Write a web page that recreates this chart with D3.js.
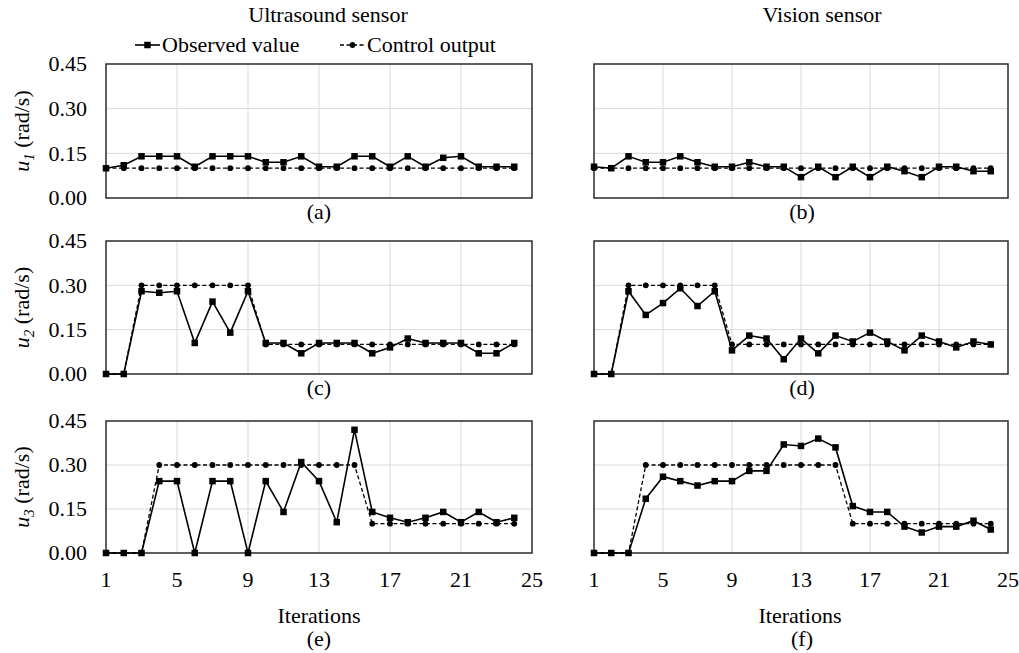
<!DOCTYPE html>
<html>
<head>
<meta charset="utf-8">
<script src="https://cdn.jsdelivr.net/npm/d3@7"></script>
</head>
<body style="margin:0">
<script>
// data
const iterations = [1,2,3,4,5,6,7,8,9,10,11,12,13,14,15,16,17,18,19,20,21,22,23,24];
const xTicks = [1, 5, 9, 13, 17, 21, 25];
const yTicks = [0, 0.15, 0.30, 0.45];
const yTickLabels = ["0.00", "0.15", "0.30", "0.45"];
const columnTitles = ["Ultrasound sensor", "Vision sensor"];
const panelTags = ["(a)", "(b)", "(c)", "(d)", "(e)", "(f)"];
const seriesNames = ["Observed value", "Control output"];

// ultrasound sensor
const usU1Obs  = [0.10,0.11,0.14,0.14,0.14,0.105,0.14,0.14,0.14,0.12,0.12,0.14,0.105,0.105,0.14,0.14,0.105,0.14,0.105,0.135,0.14,0.105,0.105,0.105];
const usU1Ctrl = [0.10,0.10,0.10,0.10,0.10,0.10,0.10,0.10,0.10,0.10,0.10,0.10,0.10,0.10,0.10,0.10,0.10,0.10,0.10,0.10,0.10,0.10,0.10,0.10];
const usU2Obs  = [0,0,0.28,0.275,0.28,0.105,0.245,0.14,0.28,0.105,0.105,0.07,0.105,0.105,0.105,0.07,0.09,0.12,0.105,0.105,0.105,0.07,0.07,0.105];
const usU2Ctrl = [0,0,0.30,0.30,0.30,0.30,0.30,0.30,0.30,0.10,0.10,0.10,0.10,0.10,0.10,0.10,0.10,0.10,0.10,0.10,0.10,0.10,0.10,0.10];
const usU3Obs  = [0,0,0,0.245,0.245,0,0.245,0.245,0,0.245,0.14,0.31,0.245,0.105,0.42,0.14,0.12,0.105,0.12,0.14,0.105,0.14,0.105,0.12];
const usU3Ctrl = [0,0,0,0.30,0.30,0.30,0.30,0.30,0.30,0.30,0.30,0.30,0.30,0.30,0.30,0.10,0.10,0.10,0.10,0.10,0.10,0.10,0.10,0.10];

// vision sensor
const vsU1Obs  = [0.105,0.10,0.14,0.12,0.12,0.14,0.12,0.105,0.105,0.12,0.105,0.105,0.07,0.105,0.07,0.105,0.07,0.105,0.09,0.07,0.105,0.105,0.09,0.09];
const vsU1Ctrl = [0.10,0.10,0.10,0.10,0.10,0.10,0.10,0.10,0.10,0.10,0.10,0.10,0.10,0.10,0.10,0.10,0.10,0.10,0.10,0.10,0.10,0.10,0.10,0.10];
const vsU2Obs  = [0,0,0.28,0.20,0.24,0.29,0.23,0.28,0.08,0.13,0.12,0.05,0.12,0.07,0.13,0.11,0.14,0.11,0.08,0.13,0.11,0.09,0.11,0.10];
const vsU2Ctrl = [0,0,0.30,0.30,0.30,0.30,0.30,0.30,0.10,0.10,0.10,0.10,0.10,0.10,0.10,0.10,0.10,0.10,0.10,0.10,0.10,0.10,0.10,0.10];
const vsU3Obs  = [0,0,0,0.185,0.26,0.245,0.23,0.245,0.245,0.28,0.28,0.37,0.365,0.39,0.36,0.16,0.14,0.14,0.09,0.07,0.09,0.09,0.11,0.08];
const vsU3Ctrl = [0,0,0,0.30,0.30,0.30,0.30,0.30,0.30,0.30,0.30,0.30,0.30,0.30,0.30,0.10,0.10,0.10,0.10,0.10,0.10,0.10,0.10,0.10];

const panels = [
  { col: 0, row: 0, obs: usU1Obs, ctrl: usU1Ctrl, tag: panelTags[0], sub: "1" },
  { col: 1, row: 0, obs: vsU1Obs, ctrl: vsU1Ctrl, tag: panelTags[1], sub: "1" },
  { col: 0, row: 1, obs: usU2Obs, ctrl: usU2Ctrl, tag: panelTags[2], sub: "2" },
  { col: 1, row: 1, obs: vsU2Obs, ctrl: vsU2Ctrl, tag: panelTags[3], sub: "2" },
  { col: 0, row: 2, obs: usU3Obs, ctrl: usU3Ctrl, tag: panelTags[4], sub: "3" },
  { col: 1, row: 2, obs: vsU3Obs, ctrl: vsU3Ctrl, tag: panelTags[5], sub: "3" }
];

const W = 1019, H = 653;
const colX = [[106, 532], [594, 1008]];
const rowY = [[64, 198], [241, 374], [421, 553]];
const fontSize = 22;
const sq = 6.5;      // square marker side
const dotR = 2.9;    // circle marker radius
const dash = "4,2.5";

const svg = d3.select("body").append("svg")
  .attr("width", W)
  .attr("height", H);

// column titles
svg.selectAll("text.title")
  .data(columnTitles)
  .enter().append("text")
  .attr("class", "title")
  .attr("x", (d, i) => i === 0 ? 328 : 822)
  .attr("y", 22)
  .attr("text-anchor", "middle")
  .text(d => d);

// legend
const legend = svg.append("g");
legend.append("line").attr("x1", 135).attr("x2", 160).attr("y1", 45).attr("y2", 45)
  .attr("stroke", "#000").attr("stroke-width", 1.6);
legend.append("rect").attr("x", 147.5 - sq / 2).attr("y", 45 - sq / 2).attr("width", sq).attr("height", sq).attr("fill", "#000");
legend.append("text").attr("x", 162).attr("y", 52).text(seriesNames[0]);
legend.append("line").attr("x1", 340).attr("x2", 365).attr("y1", 45).attr("y2", 45)
  .attr("stroke", "#000").attr("stroke-width", 1.3).attr("stroke-dasharray", dash);
legend.append("circle").attr("cx", 352.5).attr("cy", 45).attr("r", dotR).attr("fill", "#000");
legend.append("text").attr("x", 367).attr("y", 52).text(seriesNames[1]);

panels.forEach(p => {
  const [x0, x1] = colX[p.col];
  const [y0, y1] = rowY[p.row];

  const x = d3.scaleLinear().domain([1, 25]).range([x0, x1]);
  const y = d3.scaleLinear().domain([0, 0.45]).range([y1, y0]);

  const g = svg.append("g");

  // grid
  g.selectAll("line.vgrid")
    .data(xTicks.slice(1, -1))
    .enter().append("line")
    .attr("x1", d => x(d)).attr("x2", d => x(d))
    .attr("y1", y0).attr("y2", y1)
    .attr("stroke", "#d9d9d9").attr("stroke-width", 1);
  g.selectAll("line.hgrid")
    .data(yTicks.slice(1, -1))
    .enter().append("line")
    .attr("x1", x0).attr("x2", x1)
    .attr("y1", d => y(d)).attr("y2", d => y(d))
    .attr("stroke", "#d9d9d9").attr("stroke-width", 1);

  // frame
  g.append("rect")
    .attr("x", x0).attr("y", y0)
    .attr("width", x1 - x0).attr("height", y1 - y0)
    .attr("fill", "none")
    .attr("stroke", "#2b2b2b").attr("stroke-width", 1.5);

  // y tick labels on left column only
  if (p.col === 0) {
    g.selectAll("text.ytick")
      .data(yTicks)
      .enter().append("text")
      .attr("x", 87)
      .attr("y", d => y(d))
      .attr("dy", "0.34em")
      .attr("text-anchor", "end")
      .text((d, i) => yTickLabels[i]);

    const lab = g.append("text")
      .attr("transform", `translate(29, ${(y0 + y1) / 2}) rotate(-90)`)
      .attr("text-anchor", "middle");
    lab.append("tspan").attr("font-style", "italic").text("u");
    lab.append("tspan").attr("font-style", "italic").attr("class", "sub")
      .attr("dy", 5).text(p.sub);
    lab.append("tspan").attr("dy", -5).text(" (rad/s)");
  }

  // series
  const line = d3.line().x((d, i) => x(iterations[i])).y(d => y(d));

  g.append("path")
    .datum(p.ctrl)
    .attr("d", line)
    .attr("fill", "none")
    .attr("stroke", "#000").attr("stroke-width", 1.3)
    .attr("stroke-dasharray", dash);
  g.selectAll("circle.ctrl")
    .data(p.ctrl)
    .enter().append("circle")
    .attr("cx", (d, i) => x(iterations[i]))
    .attr("cy", d => y(d))
    .attr("r", dotR)
    .attr("fill", "#000");

  g.append("path")
    .datum(p.obs)
    .attr("d", line)
    .attr("fill", "none")
    .attr("stroke", "#000").attr("stroke-width", 1.6);
  g.selectAll("rect.obs")
    .data(p.obs)
    .enter().append("rect")
    .attr("x", (d, i) => x(iterations[i]) - sq / 2)
    .attr("y", d => y(d) - sq / 2)
    .attr("width", sq).attr("height", sq)
    .attr("fill", "#000");

  // panel tag
  const tagY = p.row === 2 ? 646 : y1 + 21;
  g.append("text")
    .attr("x", p.col === 0 ? 319 : 802)
    .attr("y", tagY)
    .attr("text-anchor", "middle")
    .text(p.tag);

  // x ticks and title on bottom row
  if (p.row === 2) {
    g.selectAll("text.xtick")
      .data(xTicks)
      .enter().append("text")
      .attr("x", d => x(d))
      .attr("y", 587)
      .attr("text-anchor", "middle")
      .text(d => d);
    g.append("text")
      .attr("x", p.col === 0 ? 319 : 800)
      .attr("y", 623)
      .attr("text-anchor", "middle")
      .text("Iterations");
  }
});

// font on every text element
svg.selectAll("text")
  .attr("font-family", "Liberation Serif")
  .attr("font-size", fontSize)
  .attr("fill", "#000");
svg.selectAll("tspan.sub").attr("font-size", 15);
</script>
</body>
</html>
